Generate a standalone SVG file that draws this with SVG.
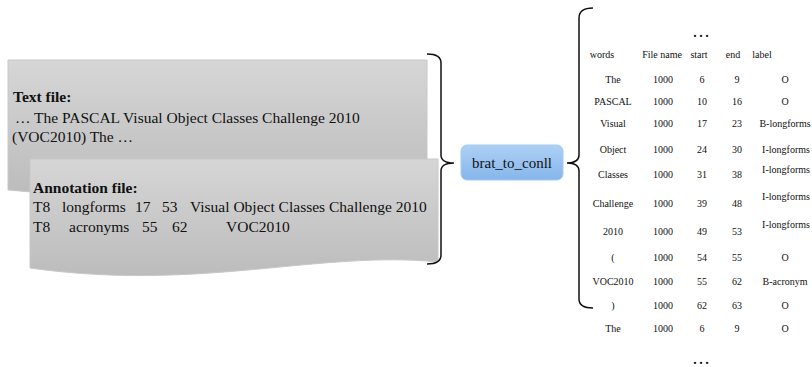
<svg xmlns="http://www.w3.org/2000/svg" width="812" height="367" viewBox="0 0 812 367" font-family="'Liberation Serif', 'DejaVu Serif', serif">
<defs>
<linearGradient id="gdoc" x1="0" y1="0" x2="0" y2="1">
<stop offset="0" stop-color="#d6d6d6"/>
<stop offset="1" stop-color="#bcbcbc"/>
</linearGradient>
<linearGradient id="gbox" x1="0" y1="0" x2="0" y2="1">
<stop offset="0" stop-color="#aed0f4"/>
<stop offset="1" stop-color="#85b6ec"/>
</linearGradient>
</defs>
<style>
text{fill:#111}
.doc{fill:url(#gdoc);stroke:#c8c8c8;stroke-width:1}
.big{font-size:15.5px}
.bold{font-weight:bold}
.brace{fill:none;stroke:#111;stroke-width:1.5}
.t{font-size:10px;text-anchor:middle}
.dots{font-size:18px;text-anchor:middle}
</style>
<rect width="812" height="367" fill="#fff"/>
<g id="textfile">
<path class="doc" d="M8,60 H427 V175 C300,168 150,205 8,190 Z"/>
<text class="big bold" x="13" y="102">Text file:</text>
<text class="big" x="15" y="123">… The PASCAL Visual Object Classes Challenge 2010</text>
<text class="big" x="12" y="142">(VOC2010) The …</text>
</g>
<g id="annotationfile">
<path class="doc" d="M30,159 H438 V262 C320,250 200,292 30,268 Z"/>
<text class="big bold" x="33" y="193">Annotation file:</text>
<text class="big" y="212"><tspan x="33">T8</tspan><tspan x="62">longforms</tspan><tspan x="135">17</tspan><tspan x="162">53</tspan><tspan x="190">Visual Object Classes Challenge 2010</tspan></text>
<text class="big" y="232"><tspan x="33">T8</tspan><tspan x="69">acronyms</tspan><tspan x="142">55</tspan><tspan x="172">62</tspan><tspan x="226">VOC2010</tspan></text>
</g>
<g id="connectors">
<path class="brace" d="M427,54 Q441,54 441,63 V155 Q441,163 454,163 Q441,163 441,171 V255 Q441,264 427,264"/>
<path class="brace" d="M593,8 Q579,8 579,18 V155 Q579,163 567,163 Q579,163 579,171 V299 Q579,308 593,308"/>
</g>
<g id="brat_to_conll">
<rect x="461" y="145" width="102" height="35" rx="6" fill="url(#gbox)" stroke="#a6c9ef" stroke-width="1"/>
<text x="512" y="168" font-size="15" text-anchor="middle">brat_to_conll</text>
</g>
<g id="table">
<text class="dots" x="701" y="37">…</text>
<text class="t" y="58"><tspan x="602">words</tspan><tspan x="662">File name</tspan><tspan x="699">start</tspan><tspan x="733">end</tspan><tspan x="762">label</tspan></text>
<text class="t" y="83"><tspan x="613">The</tspan><tspan x="663">1000</tspan><tspan x="702">6</tspan><tspan x="737">9</tspan><tspan x="785">O</tspan></text>
<text class="t" y="105"><tspan x="613">PASCAL</tspan><tspan x="663">1000</tspan><tspan x="702">10</tspan><tspan x="737">16</tspan><tspan x="785">O</tspan></text>
<text class="t" y="127"><tspan x="613">Visual</tspan><tspan x="663">1000</tspan><tspan x="702">17</tspan><tspan x="737">23</tspan><tspan x="785">B-longforms</tspan></text>
<text class="t" y="153"><tspan x="613">Object</tspan><tspan x="663">1000</tspan><tspan x="702">24</tspan><tspan x="737">30</tspan><tspan x="786">I-longforms</tspan></text>
<text class="t" y="178"><tspan x="613">Classes</tspan><tspan x="663">1000</tspan><tspan x="702">31</tspan><tspan x="737">38</tspan></text>
<text class="t" x="786" y="173">I-longforms</text>
<text class="t" y="207"><tspan x="613">Challenge</tspan><tspan x="663">1000</tspan><tspan x="702">39</tspan><tspan x="737">48</tspan></text>
<text class="t" x="786" y="200">I-longforms</text>
<text class="t" y="235"><tspan x="613">2010</tspan><tspan x="663">1000</tspan><tspan x="702">49</tspan><tspan x="737">53</tspan></text>
<text class="t" x="786" y="228">I-longforms</text>
<text class="t" y="261"><tspan x="613">(</tspan><tspan x="663">1000</tspan><tspan x="702">54</tspan><tspan x="737">55</tspan><tspan x="785">O</tspan></text>
<text class="t" y="285"><tspan x="613">VOC2010</tspan><tspan x="663">1000</tspan><tspan x="702">55</tspan><tspan x="737">62</tspan><tspan x="785">B-acronym</tspan></text>
<text class="t" y="309"><tspan x="613">)</tspan><tspan x="663">1000</tspan><tspan x="702">62</tspan><tspan x="737">63</tspan><tspan x="785">O</tspan></text>
<text class="t" y="332"><tspan x="613">The</tspan><tspan x="663">1000</tspan><tspan x="702">6</tspan><tspan x="737">9</tspan><tspan x="785">O</tspan></text>
<text class="dots" x="701" y="364">…</text>
</g>
</svg>
